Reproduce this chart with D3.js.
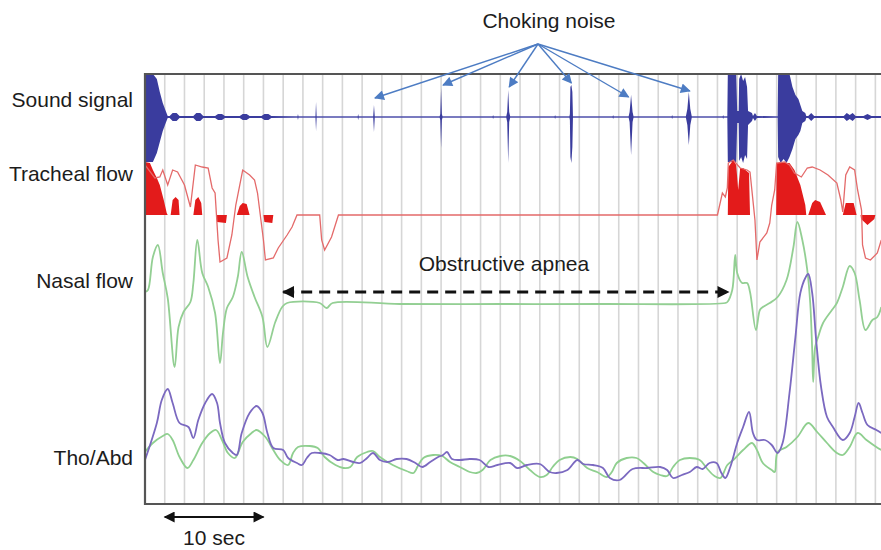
<!DOCTYPE html>
<html>
<head>
<meta charset="utf-8">
<script src="https://cdn.jsdelivr.net/npm/d3@7"></script>
<style>
  html, body { margin: 0; padding: 0; background: #fff; }
  svg text { font-family: "Liberation Sans", Arial, Helvetica, sans-serif; fill: #1c1c1c; }
</style>
</head>
<body>
<svg id="chart" width="881" height="550"></svg>
<script>
// time in seconds, amplitudes in trace units (positive = up)
const channelNames = ["Sound signal", "Tracheal flow", "Nasal flow", "Tho/Abd"];

// [t, up, down] envelope of the microphone trace
const soundEnvelope = [
  [0, 43, 45], [0.8, 43, 45], [1.2, 38, 36], [1.5, 25, 25], [1.8, 14, 14], [2.1, 6, 6], [2.3, 1, 1],
  [2.5, 1, 1], [2.8, 4, 4], [3.2, 4, 4], [3.5, 1, 1],
  [4.9, 1, 1], [5.2, 4, 4], [5.6, 4, 4], [5.9, 1, 1],
  [7.1, 1, 1], [7.4, 3, 3], [7.8, 3, 3], [8.1, 1, 1],
  [9.6, 1, 1], [9.9, 3, 3], [10.3, 3, 3], [10.6, 1, 1],
  [11.8, 1, 1], [12.1, 3, 3], [12.5, 3, 3], [12.8, 1, 1],
  [15.45, 0.5, 0.5], [15.5, 3, 3], [15.55, 0.5, 0.5],
  [17.27, 0.5, 0.5], [17.33, 15, 14], [17.39, 0.5, 0.5],
  [21.55, 0.5, 0.5], [21.6, 3, 3], [21.65, 0.5, 0.5],
  [23.12, 0.5, 0.5], [23.2, 12, 15], [23.28, 0.5, 0.5],
  [29.85, 0.5, 0.5], [29.92, 3, 3], [30.0, 29, 31], [30.08, 3, 3], [30.15, 0.5, 0.5],
  [35.22, 0.5, 0.5], [35.27, 2, 2], [35.32, 0.5, 0.5],
  [36.6, 0.5, 0.5], [36.7, 5, 5], [36.8, 27, 46], [36.9, 5, 5], [37.0, 0.5, 0.5],
  [41.5, 0.5, 0.5], [41.55, 2, 2], [41.6, 0.5, 0.5],
  [43.0, 0.5, 0.5], [43.05, 3, 3], [43.1, 30, 40], [43.2, 32, 46], [43.3, 25, 30], [43.36, 0.5, 0.5],
  [47.38, 0.5, 0.5], [47.43, 2, 2], [47.48, 0.5, 0.5],
  [49.0, 0.5, 0.5], [49.1, 5, 5], [49.25, 22, 38], [49.4, 5, 5], [49.5, 0.5, 0.5],
  [53.36, 0.5, 0.5], [53.41, 2, 2], [53.46, 0.5, 0.5],
  [54.8, 0.5, 0.5], [54.95, 8, 8], [55.1, 25, 28], [55.25, 8, 8], [55.4, 0.5, 0.5],
  [58.53, 0.5, 0.5], [58.58, 2, 2], [58.63, 0.5, 0.5],
  [59.0, 0.5, 0.5], [59.05, 43, 45], [59.9, 43, 45], [60.0, 6, 6], [60.15, 6, 6], [60.2, 38, 44],
  [60.4, 43, 40], [60.6, 36, 46], [60.8, 40, 38], [61.0, 30, 42], [61.1, 6, 8], [61.5, 4, 4],
  [61.6, 1, 1], [61.8, 4, 4], [62.0, 1, 1],
  [64.1, 0.5, 0.5], [64.15, 43, 40], [64.4, 43, 46], [64.7, 43, 42], [65.0, 43, 46], [65.3, 43, 40],
  [65.6, 30, 32], [65.9, 22, 22], [66.2, 18, 18], [66.4, 12, 14], [66.6, 6, 6], [66.9, 4, 4],
  [67.0, 1, 1], [67.2, 1, 1], [67.5, 4, 4], [67.8, 1, 1],
  [70.8, 1, 1], [71.1, 4, 4], [71.4, 2, 2], [71.7, 4, 4], [72.0, 1, 1],
  [72.8, 1, 1], [73.2, 3, 3], [73.6, 1, 1], [74.6, 1, 1]
];

// [t, value] tracheal flow trace
const trachealFlow = [
  [0, 50], [1.0, 37], [1.5, 38], [1.8, 45], [2.3, 30], [2.8, 45], [3.3, 43], [4.0, 30], [4.6, 8],
  [5.1, 50], [5.8, 48], [6.4, 47], [6.8, 27], [7.1, 22], [7.4, -25], [7.6, -47], [8.3, -43],
  [8.8, -20], [9.2, 10], [9.9, 45], [10.6, 40], [11.1, 35], [11.4, 22], [12.0, -25], [12.2, -45],
  [13.0, -43], [13.5, -33], [14.4, -20], [14.9, -12], [15.4, 0], [17.7, 0], [17.9, -25],
  [18.2, -35], [18.9, -22], [19.6, 0], [58.0, 0], [58.5, 22], [58.8, 18], [59.0, 27], [59.1, 52],
  [59.6, 55], [60.3, 47], [61.0, 45], [61.3, 43], [61.8, -5], [62.0, -45], [62.3, -27], [63.0, -18],
  [63.3, -8], [63.5, 10], [63.8, 25], [64.0, 52], [64.8, 53], [65.3, 50], [65.8, 42], [66.5, 38],
  [67.1, 47], [67.6, 48], [68.4, 45], [69.2, 40], [70.1, 32], [70.5, 15], [70.7, 3], [71.0, 40],
  [71.4, 48], [71.9, 45], [72.2, 25], [72.6, 5], [72.7, -30], [73.0, -43], [73.5, -45], [74.2, -38],
  [74.6, -25]
];

// [t, value] filled part of the tracheal flow
const trachealFill = [
  [0, 53], [0.5, 52], [0.8, 45], [1.2, 37], [1.5, 30], [1.9, 15], [2.2, 2], [2.3, 0],
  [2.6, 0], [2.8, 15], [3.1, 18], [3.4, 15], [3.5, 0],
  [4.9, 0], [5.1, 15], [5.4, 18], [5.7, 12], [5.8, 0],
  [7.2, 0], [7.3, -7], [8.2, -8], [8.3, 0],
  [9.3, 0], [9.6, 9], [9.9, 12], [10.3, 11], [10.6, 0],
  [12.0, 0], [12.1, -7], [12.9, -8], [13.0, 0],
  [59.05, 0], [59.1, 48], [59.6, 55], [59.9, 50], [60.1, 25], [60.3, 47], [60.6, 47], [61.2, 42], [61.3, 0],
  [63.95, 0], [64.0, 52], [65.3, 52], [65.8, 45], [66.4, 30], [66.9, 10], [67.0, 0],
  [67.2, 0], [67.6, 12], [67.9, 15], [68.4, 13], [69.0, 0],
  [70.7, 0], [71.0, 12], [71.8, 12], [72.1, 0],
  [72.5, 0], [72.55, -4], [73.2, -10], [73.9, -4], [74.0, 0], [74.6, 0]
];

// [t, value] nasal pressure
const nasalFlow = [
  [0, 11], [0.3, 13], [0.8, 46], [1.3, 58], [1.8, 30], [2.3, 5], [3.0, -64], [3.4, -24], [3.9, -9],
  [4.6, 1], [4.9, 20], [5.3, 63], [5.8, 30], [6.4, 16], [7.1, -10], [7.6, -60], [7.9, -30], [8.3, -5],
  [8.9, 6], [9.4, 26], [9.8, 51], [10.4, 26], [11.1, 6], [11.9, -14], [12.4, -44], [13.2, -19],
  [13.9, -4], [14.4, 0], [17.7, 0], [18.4, -5], [19.0, 0], [25.8, -1], [36.0, -1], [46.1, -1],
  [58.8, 0], [59.0, 1], [59.5, 13], [59.8, 48], [60.0, 30], [60.5, 20], [61.0, 20], [61.3, 11],
  [61.9, -27], [62.3, -7], [62.6, -4], [63.3, 0], [64.1, 6], [65.0, 23], [65.7, 56], [66.1, 81],
  [66.6, 63], [67.1, 33], [67.4, 0], [67.6, -47], [67.7, -79], [67.9, -44], [68.2, -34], [68.7, -20],
  [69.6, -7], [70.1, 0], [70.7, 16], [71.4, 37], [71.9, 30], [72.4, 3], [73.0, -27], [73.7, -17],
  [74.2, -14], [74.6, -4]
];

// [t, value] thoracic effort (purple)
const thoEffort = [
  [0, 0], [1.2, 37], [1.7, 60], [2.3, 71], [2.8, 57], [3.5, 37], [4.4, 33], [4.9, 22], [5.4, 40],
  [6.1, 57], [6.8, 66], [7.3, 57], [7.6, 37], [8.1, 17], [8.9, 7], [9.3, 5], [9.8, 27], [10.6, 47],
  [11.3, 54], [11.9, 47], [12.4, 27], [13.0, 12], [14.0, 10], [14.5, 2], [15.4, -3], [15.9, -5],
  [16.4, 2], [16.9, 7], [17.7, 7], [18.7, 5], [19.5, 0], [20.1, 1], [21.1, -2], [21.8, -3], [22.5, 2],
  [23.1, 7], [23.8, 0], [24.6, -2], [25.5, 1], [26.5, 1], [27.4, -3], [28.1, -7], [28.9, -2], [29.7, 3],
  [30.2, 5], [30.6, 8], [31.1, 1], [31.9, 0], [32.9, 1], [33.9, 0], [34.8, -7], [35.7, -5], [37.0, -3],
  [37.7, -8], [38.7, -5], [40.0, -4], [41.0, -12], [41.7, -13], [42.8, -10], [43.8, 0], [44.4, -4],
  [45.4, -5], [46.4, -8], [47.1, -18], [48.1, -20], [49.4, -9], [50.9, -8], [52.2, -7], [52.9, -10],
  [53.5, -18], [54.4, -15], [55.2, -12], [55.9, -7], [56.5, -9], [57.2, -3], [57.9, -3], [58.4, -13],
  [58.8, -18], [59.3, -7], [60.0, 17], [60.6, 33], [61.2, 48], [61.6, 27], [62.0, 20], [62.8, 20],
  [63.5, 15], [64.1, 7], [64.6, 17], [65.3, 67], [65.9, 123], [66.4, 167], [66.9, 182], [67.2, 186],
  [67.6, 167], [68.0, 120], [68.5, 73], [69.1, 43], [69.7, 33], [70.7, 20], [71.4, 27], [71.9, 43],
  [72.3, 57], [72.7, 47], [73.2, 35], [74.1, 30], [74.6, 27]
];

// [t, value] abdominal effort (green)
const abdEffort = [
  [0, 8], [0.8, 17], [1.8, 24], [2.3, 26], [2.8, 20], [3.5, 3], [4.3, -8], [4.9, 0], [5.8, 17],
  [6.6, 27], [7.2, 30], [7.8, 20], [8.4, 7], [9.1, 2], [9.9, 18], [10.8, 27], [11.3, 30], [12.2, 23],
  [13.0, 10], [13.7, 0], [14.5, -5], [15.0, 7], [15.5, 13], [16.7, 14], [17.5, 12], [18.2, 3],
  [19.3, -5], [20.1, -8], [20.8, -7], [21.5, 3], [22.5, 8], [23.1, 9], [23.8, 3], [25.1, -5],
  [26.5, -11], [27.2, -13], [27.7, -5], [28.2, 2], [29.2, 5], [30.1, 4], [30.9, -2], [31.9, -7],
  [32.9, -12], [33.6, -13], [34.2, -10], [35.0, 0], [36.0, 4], [37.0, 4], [38.0, -1], [39.0, -10],
  [40.0, -17], [40.7, -15], [41.3, -7], [42.0, 0], [43.1, 3], [43.8, 1], [44.8, -8], [45.8, -12],
  [46.8, -17], [47.3, -12], [47.8, -3], [48.8, 2], [49.8, 2], [50.5, -3], [51.5, -12], [52.2, -15],
  [52.9, -16], [53.5, -7], [54.2, 0], [55.2, 2], [56.2, 0], [56.9, -8], [57.7, -16], [58.3, -18],
  [59.0, -5], [59.6, 0], [60.6, 10], [61.5, 17], [62.0, 10], [62.6, -3], [63.5, -10], [63.8, -12],
  [64.1, 8], [65.0, 13], [66.1, 23], [67.2, 37], [68.1, 28], [69.1, 17], [70.1, 7], [70.7, 5],
  [71.4, 13], [72.2, 27], [73.1, 20], [74.1, 13], [74.6, 10]
];

// annotated events (seconds)
const chokingTimes = [23.3, 30.2, 36.9, 43.2, 49.0, 55.2];
const apneaSpan = [14.0, 59.1];
const scaleBarSpan = [2, 12];
const scaleBarLabel = "10 sec";

// ---------- drawing ----------
const svg = d3.select("#chart");
const plotL = 145, plotT = 74, plotB = 504, plotR = 881;

const x = d3.scaleLinear().domain([0, 74.5]).range([plotL, 880.3]);
const chan = base => d3.scaleLinear().domain([-100, 100]).range([base + 100, base - 100]);
const ySound = chan(117), yTrach = chan(215), yNasal = chan(303), yTho = chan(460);

const defs = svg.append("defs");
defs.append("clipPath").attr("id", "plot")
  .append("rect").attr("x", plotL).attr("y", plotT).attr("width", plotR - plotL).attr("height", plotB - plotT);

function marker(id, color, w, h, reverse) {
  defs.append("marker").attr("id", id)
    .attr("viewBox", "0 0 10 10").attr("refX", 9).attr("refY", 5)
    .attr("markerUnits", "userSpaceOnUse")
    .attr("markerWidth", w).attr("markerHeight", h)
    .attr("orient", reverse ? "auto-start-reverse" : "auto")
    .append("path").attr("d", "M0,0 L10,5 L0,10 z").attr("fill", color);
}
marker("blueHead", "#4d7cc3", 12, 10);
marker("blackHead", "#111", 13, 11, true);
marker("blackHeadBig", "#111", 15, 12, true);

// vertical 2-second grid
svg.append("g").selectAll("line")
  .data(d3.range(2, 75, 2))
  .join("line")
  .attr("x1", d => x(d)).attr("x2", d => x(d))
  .attr("y1", plotT).attr("y2", plotB)
  .attr("stroke", "#d6d6d6").attr("stroke-width", 1.6);

const plot = svg.append("g").attr("clip-path", "url(#plot)");

// sound
plot.append("line")
  .attr("x1", x(0)).attr("x2", x(74.5))
  .attr("y1", ySound(0)).attr("y2", ySound(0))
  .attr("stroke", "#7474c4").attr("stroke-width", 1);
plot.append("path")
  .datum(soundEnvelope)
  .attr("fill", "#3a3c9e")
  .attr("d", d3.area().x(d => x(d[0])).y0(d => ySound(-d[2])).y1(d => ySound(d[1])));

// tracheal flow
plot.append("path")
  .datum(trachealFill)
  .attr("fill", "#e31b1b")
  .attr("d", d3.area().x(d => x(d[0])).y0(yTrach(0)).y1(d => yTrach(d[1])));
plot.append("path")
  .datum(trachealFlow)
  .attr("fill", "none").attr("stroke", "#e46a6a").attr("stroke-width", 1.3)
  .attr("d", d3.line().x(d => x(d[0])).y(d => yTrach(d[1])));

// nasal flow
plot.append("path")
  .datum(nasalFlow)
  .attr("fill", "none").attr("stroke", "#93cf93").attr("stroke-width", 1.8)
  .attr("d", d3.line().x(d => x(d[0])).y(d => yNasal(d[1])).curve(d3.curveCatmullRom.alpha(0.5)));

// thoracic / abdominal
plot.append("path")
  .datum(abdEffort)
  .attr("fill", "none").attr("stroke", "#8fcf8f").attr("stroke-width", 1.8)
  .attr("d", d3.line().x(d => x(d[0])).y(d => yTho(d[1])).curve(d3.curveCatmullRom.alpha(0.5)));
plot.append("path")
  .datum(thoEffort)
  .attr("fill", "none").attr("stroke", "#7b69c0").attr("stroke-width", 1.8)
  .attr("d", d3.line().x(d => x(d[0])).y(d => yTho(d[1])).curve(d3.curveCatmullRom.alpha(0.5)));

// frame
svg.append("path")
  .attr("d", `M${plotR},${plotT} H${plotL} V${plotB} H${plotR}`)
  .attr("fill", "none").attr("stroke", "#555").attr("stroke-width", 2.2);

// channel labels
const labelY = [107, 181, 288, 465];
svg.append("g").selectAll("text")
  .data(channelNames)
  .join("text")
  .attr("x", 133).attr("y", (d, i) => labelY[i])
  .attr("text-anchor", "end").attr("font-size", 21)
  .text(d => d);

// choking noise arrows
const tipY = [98, 85, 87, 83, 97, 91];
svg.append("g").selectAll("line")
  .data(chokingTimes)
  .join("line")
  .attr("x1", 538).attr("y1", 44)
  .attr("x2", d => x(d)).attr("y2", (d, i) => tipY[i])
  .attr("stroke", "#4d7cc3").attr("stroke-width", 1.4)
  .attr("marker-end", "url(#blueHead)");
svg.append("text")
  .attr("x", 549).attr("y", 28).attr("text-anchor", "middle").attr("font-size", 21)
  .text("Choking noise");

// obstructive apnea
svg.append("line")
  .attr("x1", x(apneaSpan[0])).attr("x2", x(apneaSpan[1]))
  .attr("y1", 292).attr("y2", 292)
  .attr("stroke", "#111").attr("stroke-width", 3).attr("stroke-dasharray", "11,7")
  .attr("marker-start", "url(#blackHeadBig)").attr("marker-end", "url(#blackHeadBig)");
svg.append("text")
  .attr("x", 504).attr("y", 271).attr("text-anchor", "middle").attr("font-size", 21)
  .text("Obstructive apnea");

// 10 s scale bar
svg.append("line")
  .attr("x1", x(scaleBarSpan[0])).attr("x2", x(scaleBarSpan[1]))
  .attr("y1", 517).attr("y2", 517)
  .attr("stroke", "#111").attr("stroke-width", 2.2)
  .attr("marker-start", "url(#blackHead)").attr("marker-end", "url(#blackHead)");
svg.append("text")
  .attr("x", 214).attr("y", 545).attr("text-anchor", "middle").attr("font-size", 21)
  .text(scaleBarLabel);
</script>
</body>
</html>
